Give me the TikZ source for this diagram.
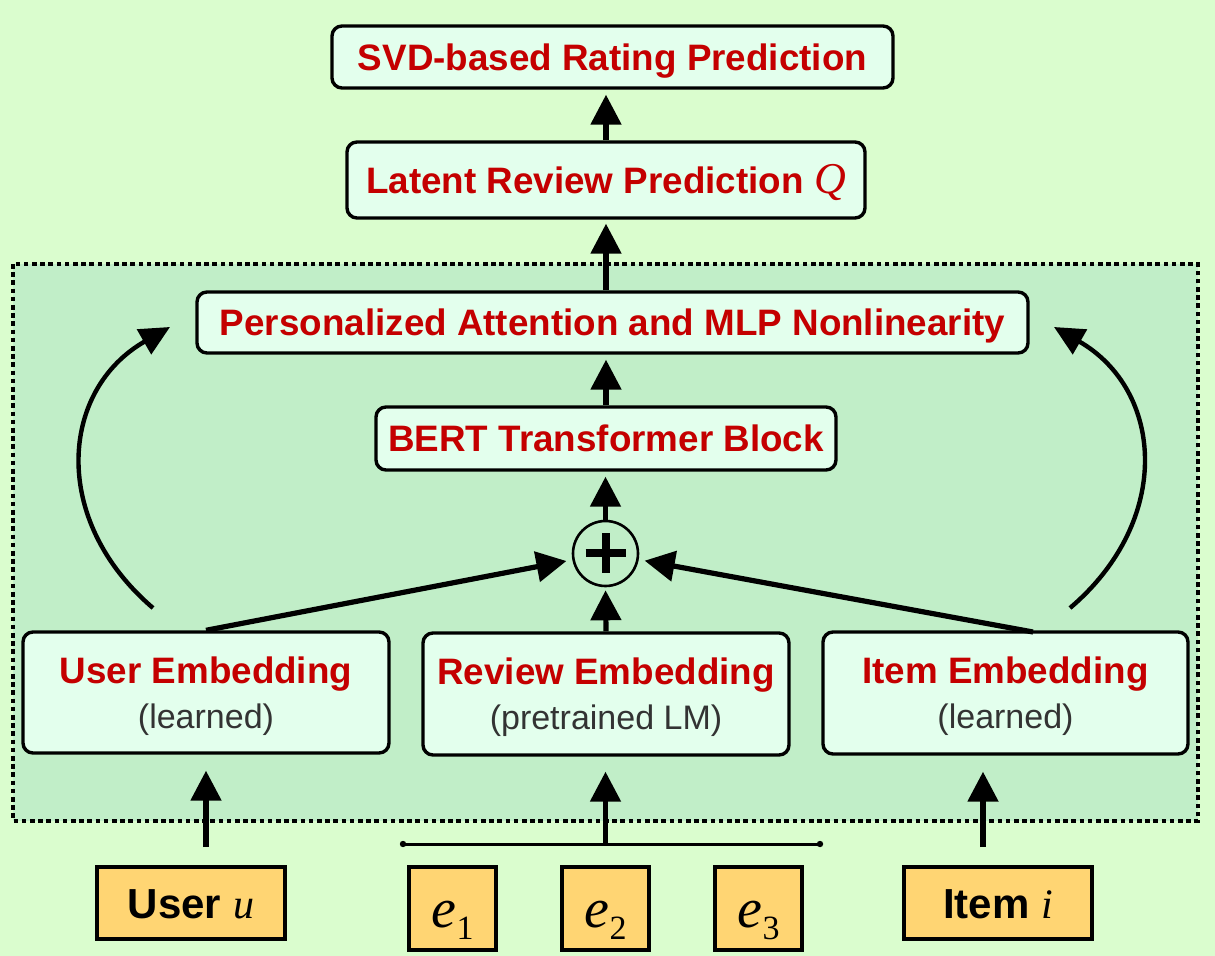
\documentclass[tikz,border=0pt]{standalone}
\usepackage{fontspec}
\setmainfont{Liberation Sans}
\newfontfamily\tms{Liberation Serif}
\usetikzlibrary{arrows.meta}
\definecolor{bgout}{HTML}{DAFDCE}
\definecolor{bgin}{HTML}{C1EEC8}
\definecolor{boxfill}{HTML}{E3FFED}
\definecolor{orangefill}{HTML}{FFD573}
\definecolor{titlered}{HTML}{C40000}
\tikzset{
  blk/.style={draw=black, line width=1.7pt, rounded corners=5pt, fill=boxfill, inner sep=0pt,
    font=\fontsize{18.4}{21}\selectfont\bfseries, text=titlered, text height=13.2pt, text depth=0pt},
  ttl/.style={anchor=base, inner sep=0pt, font=\fontsize{18.4}{21}\selectfont\bfseries, text=titlered},
  subt/.style={anchor=base, inner sep=0pt, font=\fontsize{17}{20}\selectfont, text=black!80},
  inbox/.style={draw=black, line width=1.7pt, fill=orangefill, inner sep=0pt,
    font=\fontsize{21}{24}\selectfont\bfseries, text height=15pt, text depth=0pt},
  ebox/.style={draw=black, line width=1.7pt, fill=orangefill, inner sep=0pt,
    minimum width=43.5pt, minimum height=41.5pt, text height=18.5pt, text depth=0pt,
    font=\fontsize{28}{30}\selectfont\tms},
  arr/.style={line width=2.6pt, -{Triangle[length=15pt,width=15pt]}},
  carr/.style={line width=2.2pt, -{Triangle[length=15pt,width=14pt]}}
}
\newcommand\esub[1]{\itshape e\kern0.3pt\raisebox{-6pt}{\upshape\fontsize{17}{18}\selectfont #1}}
\begin{document}
\begin{tikzpicture}[x=0.5pt,y=-0.5pt]
\fill[bgout] (0,0) rectangle (1215,956);
\useasboundingbox (0,0) rectangle (1215,956);
\draw[fill=bgin, line width=2pt, dash pattern=on 2.3pt off 1.8pt] (13,264) rectangle (1198,821);

\node[blk, minimum width=280.5pt, minimum height=31pt] (svd) at (612.5,57) {SVD-based Rating Prediction};
\node[blk, minimum width=259pt, minimum height=38pt] (latent) at (606,180) {Latent Review Prediction {\tms\mdseries\itshape\fontsize{22}{24}\selectfont Q}};
\node[blk, minimum width=415.5pt, minimum height=30.5pt] (pers) at (612.5,322.5) {Personalized Attention and MLP Nonlinearity};
\node[blk, minimum width=230pt, minimum height=31.5pt] (bert) at (606,438.5) {BERT Transformer Block};
\node[circle, draw=black, line width=1.3pt, minimum size=32.5pt, inner sep=0pt] (plus) at (605.5,553.5) {};
\draw[line width=4pt] (585.5,553.5) -- (625.5,553.5);
\draw[line width=4pt] (605.5,533.5) -- (605.5,573.5);

\node[blk, minimum width=183pt, minimum height=60.5pt] (uemb) at (206,692.5) {};
\node[blk, minimum width=183pt, minimum height=61pt] (remb) at (606,694) {};
\node[blk, minimum width=182.5pt, minimum height=61pt] (iemb) at (1005.5,693) {};
\node[ttl] (uembT) at (206,683) {User Embedding};
\node[subt] (uembS) at (206,728) {(learned)};
\node[ttl] (rembT) at (606,684) {Review Embedding};
\node[subt] (rembS) at (606,729.5) {(pretrained LM)};
\node[ttl] (iembT) at (1005.5,683.5) {Item Embedding};
\node[subt] (iembS) at (1005.5,728.5) {(learned)};

\node[inbox, minimum width=94pt, minimum height=36pt] (user) at (191,903) {User {\tms\mdseries\itshape u}};
\node[inbox, minimum width=94pt, minimum height=36pt] (item) at (998,903) {Item {\tms\mdseries\itshape i}};
\node[ebox] (e1) at (452.5,908.5) {\esub{1}};
\node[ebox] (e2) at (605.5,908.5) {\esub{2}};
\node[ebox] (e3) at (758.5,908.5) {\esub{3}};

% vertical arrows
\draw[arr, shorten >=2.5pt] (latent.north) -- (latent.north |- svd.south);
\draw[arr, shorten >=2pt] (pers.north -| latent.south) -- (latent.south);
\draw[arr, shorten >=2.5pt] (bert.north) -- (bert.north |- pers.south);
\draw[arr, shorten >=2.5pt] (plus.north) -- (plus.north |- bert.south);
\draw[arr, shorten >=1.5pt] (remb.north) -- (plus.south);

% diagonal arrows into plus
\coordinate (it) at (1033,632);
\draw[arr, shorten >=3pt] (uemb.north) -- (plus);
\draw[arr, shorten >=3pt] (it) -- (plus);

% curved arrows
\coordinate (lc0) at (153,608);
\coordinate (lc1) at (170,327);
\coordinate (rc0) at (1070,608);
\coordinate (rc1) at (1054,327);
\draw[carr] (lc0) .. controls (50,520) and (60,390) .. (lc1);
\draw[carr] (rc0) .. controls (1173.5,520) and (1163.5,390) .. (rc1);

% input arrows
\coordinate (hl) at (403,844);
\coordinate (hr) at (820,844);
\coordinate (hm) at (605.5,844);
\draw[line width=1.5pt, line cap=round] (hl) -- (hr);
\fill (hl) circle (1.6pt);
\fill (hr) circle (1.6pt);
\draw[arr, shorten >=7.5pt] (hm) -- (remb.south -| hm);
\coordinate (ua) at (206,847);
\coordinate (ia) at (983,847);
\draw[arr, shorten >=8pt] (ua) -- (uemb.south -| ua);
\draw[arr, shorten >=8pt] (ia) -- (iemb.south -| ia);
\end{tikzpicture}
\end{document}
